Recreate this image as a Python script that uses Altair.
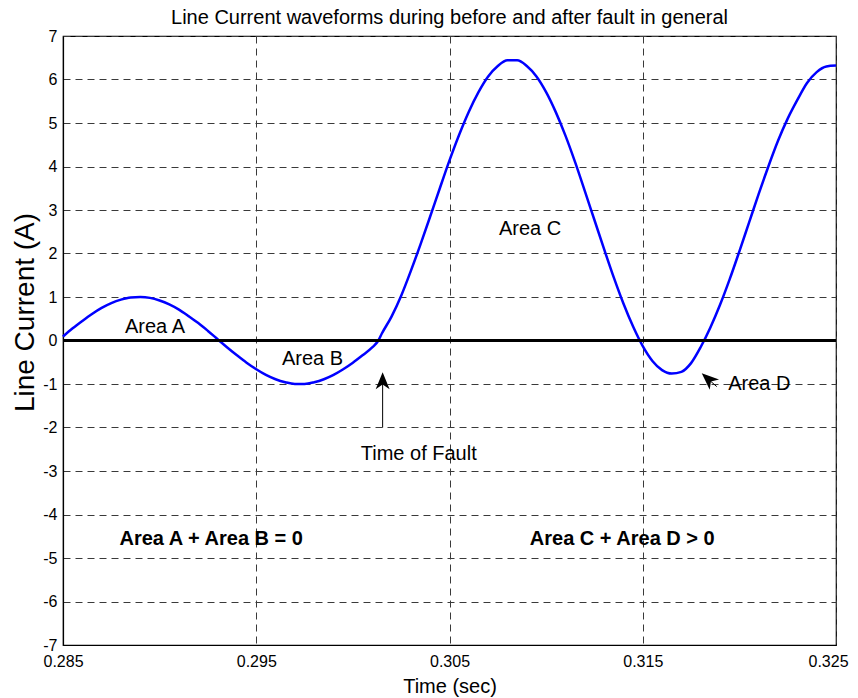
import altair as alt
import pandas as pd

FONT = "Liberation Sans"

# ---- waveform (time in s, current in A) ----
time_pre = [0.285, 0.2855, 0.286, 0.2865, 0.287, 0.2875, 0.288, 0.2885, 0.289, 0.2895,
            0.290, 0.2905, 0.291, 0.2915, 0.292, 0.2925, 0.293, 0.2935, 0.294, 0.2945,
            0.295, 0.2955, 0.296, 0.2965, 0.297, 0.2975, 0.298, 0.2985, 0.299, 0.2995,
            0.300, 0.3005, 0.301, 0.30132]
current_pre = [0.09, 0.28, 0.45, 0.61, 0.75, 0.86, 0.94, 0.99, 1.00, 0.98,
               0.92, 0.83, 0.71, 0.56, 0.40, 0.22, 0.03, -0.16, -0.34, -0.51,
               -0.66, -0.79, -0.89, -0.96, -1.00, -1.00, -0.96, -0.89, -0.79, -0.66,
               -0.51, -0.34, -0.16, 0.00]

time_post = [0.3015, 0.302, 0.3025, 0.303, 0.3035, 0.304, 0.3045, 0.305, 0.3055, 0.306,
             0.3065, 0.307, 0.3075, 0.308, 0.3085, 0.309, 0.3095, 0.310, 0.3105, 0.311,
             0.3115, 0.312, 0.3125, 0.313, 0.3135, 0.314, 0.3145, 0.315, 0.3155, 0.316,
             0.3165, 0.317, 0.3175, 0.318, 0.3185, 0.319, 0.3195, 0.320, 0.3205, 0.321,
             0.3215, 0.322, 0.3225, 0.323, 0.3235, 0.324, 0.3245, 0.325]
current_post = [0.16, 0.55, 1.03, 1.60, 2.21, 2.85, 3.50, 4.14, 4.73, 5.26,
                5.71, 6.07, 6.31, 6.44, 6.44, 6.31, 6.07, 5.71, 5.25, 4.71,
                4.10, 3.44, 2.77, 2.10, 1.45, 0.85, 0.32, -0.13, -0.47, -0.68,
                -0.76, -0.72, -0.52, -0.15, 0.30, 0.82, 1.41, 2.05, 2.71, 3.37,
                4.00, 4.59, 5.10, 5.53, 5.92, 6.17, 6.30, 6.32]

# ---- axes ----
x_ticks = [0.285, 0.295, 0.305, 0.315, 0.325]
y_ticks = list(range(-7, 8))

# ---- annotations (data coordinates) ----
note_text = ["Area A", "Area B", "Area C", "Area D", "Time of Fault"]
note_t = [0.28976, 0.29791, 0.30917, 0.32103, 0.30341]
note_i = [0.18, -0.57, 2.43, -1.14, -2.74]

bold_text = ["Area A + Area B = 0", "Area C + Area D > 0"]
bold_t = [0.29267, 0.31394]
bold_i = [-4.70, -4.69]

# arrows: tail -> head (data coordinates) and head rotation
arrow_tail_t = [0.30154, 0.31883]
arrow_tail_i = [-2.00, -1.06]
arrow_head_t = [0.30154, 0.31838]
arrow_head_i = [-0.925, -0.885]
arrow_angle = [0, 312]

wave = pd.DataFrame({"t": time_pre + time_post, "i": current_pre + current_post})
notes = pd.DataFrame({"label": note_text, "t": note_t, "i": note_i})
bolds = pd.DataFrame({"label": bold_text, "t": bold_t, "i": bold_i})
arrows = pd.DataFrame({"t": arrow_tail_t, "i": arrow_tail_i,
                       "t2": arrow_head_t, "i2": arrow_head_i, "angle": arrow_angle})

xscale = alt.Scale(domain=[0.285, 0.325], nice=False, zero=False)
yscale = alt.Scale(domain=[-7, 7], nice=False, zero=False)

xaxis = alt.Axis(values=x_ticks, format=".3f", title="Time (sec)",
                 titleBaseline="alphabetic", titleY=47,
                 labelOffset={"condition": {"test": "datum.value >= 0.325", "value": -8},
                              "value": 0})
yaxis = alt.Axis(values=y_ticks, labelExpr="'' + datum.value", title="Line Current (A)",
                 titleAngle=270, titleBaseline="alphabetic", titleX=-30, titleY=276,
                 titleAlign="center", titleFontSize=28)

X = alt.X("t:Q", scale=xscale, axis=xaxis)
Y = alt.Y("i:Q", scale=yscale, axis=yaxis)

line = alt.Chart(wave).mark_line(color="#0000ff", strokeWidth=2.5,
                                 interpolate="monotone").encode(x=X, y=Y)

zero = alt.Chart(pd.DataFrame({"z": [0]})).mark_rule(color="black", strokeWidth=3).encode(
    y=alt.Y("z:Q", scale=yscale))

shafts = alt.Chart(arrows).mark_rule(color="black", strokeWidth=1).encode(
    x=alt.X("t:Q", scale=xscale), y=alt.Y("i:Q", scale=yscale),
    x2="t2:Q", y2="i2:Q")

ARROW = "M0,-1 L0.82,1 L0,0.45 L-0.82,1 Z"
heads = alt.Chart(arrows).mark_point(shape=ARROW, filled=True, color="black",
                                     size=289, opacity=1, strokeWidth=0).encode(
    x=alt.X("t2:Q", scale=xscale), y=alt.Y("i2:Q", scale=yscale),
    angle=alt.Angle("angle:Q", scale=None))

note_marks = alt.Chart(notes).mark_text(font=FONT, fontSize=20, color="black",
                                        align="center", baseline="alphabetic").encode(
    x=alt.X("t:Q", scale=xscale), y=alt.Y("i:Q", scale=yscale), text="label:N")

bold_marks = alt.Chart(bolds).mark_text(font=FONT, fontSize=20, fontWeight="bold",
                                        color="black", align="center",
                                        baseline="alphabetic").encode(
    x=alt.X("t:Q", scale=xscale), y=alt.Y("i:Q", scale=yscale), text="label:N")

chart = alt.layer(line, zero, shafts, heads, note_marks, bold_marks).properties(
    width=773, height=609,
    title=alt.TitleParams(text="Line Current waveforms during before and after fault in general",
                          font=FONT, fontSize=20, fontWeight="normal", color="black",
                          anchor="middle", frame="group", baseline="top", offset=0),
    padding={"left": 55, "top": 28, "right": 14, "bottom": 52},
    autosize=alt.AutoSizeParams(type="none"),
    background="white",
).configure_view(stroke="black", strokeWidth=1.2).configure_axis(
    labelFont=FONT, labelFontSize=16, labelColor="black",
    titleFont=FONT, titleFontSize=20, titleFontWeight="normal", titleColor="black",
    domainColor="black", domainWidth=1.2, tickSize=0, labelPadding=8,
    gridColor="#3a3a3a", gridDash=[7, 5], gridWidth=1, gridOpacity=1,
    labelOverlap=False, labelBound=False, labelFlush=False,
).configure_axisY(labelPadding=6)

chart.save("out.html", embed_options={"renderer": "svg", "actions": False})
